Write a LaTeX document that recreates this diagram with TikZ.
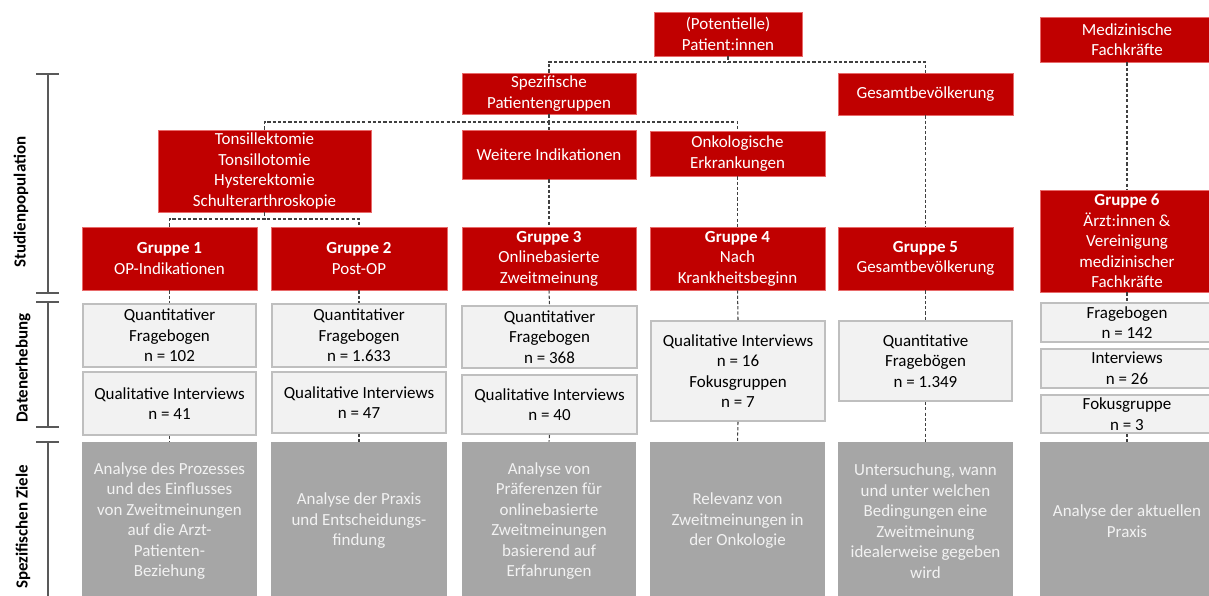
\documentclass[tikz,border=0pt]{standalone}
\usepackage{fontspec}
\setmainfont{Carlito}
\usepackage{tikz}
\usetikzlibrary{positioning}

\definecolor{myred}{HTML}{C00000}
\definecolor{myredline}{HTML}{E86A6A}
\definecolor{datafill}{HTML}{F2F2F2}
\definecolor{databorder}{HTML}{BFBFBF}
\definecolor{zielfill}{HTML}{A6A6A6}
\definecolor{zieltext}{HTML}{F2F2F2}
\definecolor{linegray}{HTML}{404040}
\definecolor{bracketgray}{HTML}{595959}

\newcommand{\boxfont}{\fontsize{9.65}{11.7}\selectfont}

\begin{document}
\begin{tikzpicture}[x=0.02cm, y=-0.02cm,
    redbox/.style={fill=myred, draw=myredline, line width=0.4pt, text=white,
      align=center, inner sep=0pt, font=\boxfont},
    databox/.style={fill=datafill, draw=databorder, line width=1.1pt,
      align=center, inner sep=0pt, font=\boxfont},
    zielbox/.style={fill=zielfill, text=zieltext, align=center, inner sep=0pt,
      minimum width=3.5cm, minimum height=3.16cm, font=\boxfont},
    conn/.style={draw=linegray, line width=0.6pt, dash pattern=on 1.8pt off 1.2pt},
    bracket/.style={draw=bracketgray, line width=1.1pt},
    sidelabel/.style={rotate=90, font=\boxfont\bfseries}]
  \clip (0,0) rectangle (1209,595);
  \fill[white] (0,0) rectangle (1209,595);

  % Connectors (drawn first, boxes go on top)
  \coordinate (potbus) at (728,62);
  \coordinate (spezbus) at (549,122);
  \coordinate (tonsbus) at (264.5,219);

  % Top level
  \node[redbox, minimum width=2.96cm, minimum height=0.88cm] (pot) at (728,34) {(Potentielle)\\Patient:innen};
  \node[redbox, minimum width=3.48cm, minimum height=0.9cm] (med) at (1127,39.5) {Medizinische\\Fachkräfte};

  % Second level
  \node[redbox, minimum width=3.48cm, minimum height=0.82cm] (spez) at (549,93.5) {Spezifische\\Patientengruppen};
  \node[redbox, minimum width=3.5cm, minimum height=0.84cm] (gesamt) at (925.5,94) {Gesamtbevölkerung};

  % Third level
  \node[redbox, minimum width=4.26cm, minimum height=1.64cm] (tons) at (264.5,171) {Tonsillektomie\\Tonsillotomie\\Hysterektomie\\Schulterarthroskopie};
  \node[redbox, minimum width=3.48cm, minimum height=0.98cm] (weitere) at (549,154.5) {Weitere Indikationen};
  \node[redbox, minimum width=3.5cm, minimum height=0.9cm] (onko) at (737.5,153.5) {Onkologische\\Erkrankungen};

  % Groups
  \node[redbox, minimum width=3.5cm, minimum height=1.26cm] (g1) at (169.5,258.5) {\textbf{Gruppe 1}\\OP-Indikationen};
  \node[redbox, minimum width=3.52cm, minimum height=1.26cm] (g2) at (359,258.5) {\textbf{Gruppe 2}\\Post-OP};
  \node[redbox, minimum width=3.48cm, minimum height=1.26cm] (g3) at (549,258.5) {\textbf{Gruppe 3}\\Onlinebasierte\\Zweitmeinung};
  \node[redbox, minimum width=3.5cm, minimum height=1.26cm] (g4) at (737.5,258.5) {\textbf{Gruppe 4}\\Nach\\Krankheitsbeginn};
  \node[redbox, minimum width=3.5cm, minimum height=1.26cm] (g5) at (925.5,258.5) {\textbf{Gruppe 5}\\Gesamtbevölkerung};
  \node[redbox, minimum width=3.48cm, minimum height=2.04cm] (g6) at (1127,241) {\textbf{Gruppe 6}\\Ärzt:innen \&\\Vereinigung\\medizinischer\\Fachkräfte};

  % Data collection
  \node[databox, minimum width=3.46cm, minimum height=1.26cm] (q1a) at (169.5,335.5) {Quantitativer\\Fragebogen\\n = 102};
  \node[databox, minimum width=3.46cm, minimum height=1.26cm] (q1b) at (169.5,403.5) {Qualitative Interviews\\n = 41};
  \node[databox, minimum width=3.48cm, minimum height=1.26cm] (q2a) at (359,335.5) {Quantitativer\\Fragebogen\\n = 1.633};
  \node[databox, minimum width=3.48cm, minimum height=1.22cm] (q2b) at (359,402.5) {Qualitative Interviews\\n = 47};
  \node[databox, minimum width=3.5cm, minimum height=1.24cm] (q3a) at (549.5,337) {Quantitativer\\Fragebogen\\n = 368};
  \node[databox, minimum width=3.5cm, minimum height=1.18cm] (q3b) at (549.5,404.5) {Qualitative Interviews\\n = 40};
  \node[databox, minimum width=3.48cm, minimum height=2.0cm] (q4) at (738,371) {Qualitative Interviews\\n = 16\\Fokusgruppen\\n = 7};
  \node[databox, minimum width=3.46cm, minimum height=1.6cm] (q5) at (925.5,361) {Quantitative\\Fragebögen\\n = 1.349};
  \node[databox, minimum width=3.44cm, minimum height=0.78cm] (q6a) at (1127,322.5) {Fragebogen\\n = 142};
  \node[databox, minimum width=3.44cm, minimum height=0.78cm] (q6b) at (1127,368.5) {Interviews\\n = 26};
  \node[databox, minimum width=3.44cm, minimum height=0.76cm] (q6c) at (1127,414) {Fokusgruppe\\n = 3};

  % Specific aims
  \node[zielbox] (z1) at (169.5,521) {Analyse des Prozesses\\und des Einflusses\\von Zweitmeinungen\\auf die Arzt-\\Patienten-\\Beziehung};
  \node[zielbox, minimum width=3.52cm] (z2) at (359,521) {Analyse der Praxis\\und Entscheidungs-\\findung};
  \node[zielbox, minimum width=3.48cm] (z3) at (549,521) {Analyse von\\Präferenzen für\\onlinebasierte\\Zweitmeinungen\\basierend auf\\Erfahrungen};
  \node[zielbox] (z4) at (737.5,521) {Relevanz von\\Zweitmeinungen in\\der Onkologie};
  \node[zielbox] (z5) at (925.5,521) {Untersuchung, wann\\und unter welchen\\Bedingungen eine\\Zweitmeinung\\idealerweise gegeben\\wird};
  \node[zielbox, minimum width=3.48cm] (z6) at (1127,521) {Analyse der aktuellen\\Praxis};

  % Dashed tree lines
  \draw[conn] (pot.south) -- (potbus);
  \draw[conn] (spez.north) |- (potbus) -| (gesamt.north);
  \draw[conn] (spez.south) -- (spezbus);
  \draw[conn] (tons.north) |- (spezbus) -| (onko.north);
  \draw[conn] (spezbus) -- (weitere.north);
  \draw[conn] (tons.south) -- (tonsbus);
  \draw[conn] (g1.north) |- (tonsbus) -| (g2.north);
  \draw[conn] (weitere.south) -- (g3.north);
  \draw[conn] (onko.south) -- (g4.north);
  \draw[conn] (gesamt.south) -- (g5.north);
  \draw[conn] (med.south) -- (g6.north);

  % Group to data to aims
  \draw[conn] (g1.south) -- (q1a.north);
  \draw[conn] (q1b.south) -- (z1.north);
  \draw[conn] (g2.south) -- (q2a.north);
  \draw[conn] (q2b.south) -- (z2.north);
  \draw[conn] (g3.south) -- (q3a.north);
  \draw[conn] (q3b.south) -- (z3.north);
  \draw[conn] (g4.south) -- (q4.north);
  \draw[conn] (q4.south) -- (z4.north);
  \draw[conn] (g5.south) -- (q5.north);
  \draw[conn] (q5.south) -- (z5.north);
  \draw[conn] (g6.south) -- (q6a.north);
  \draw[conn] (q6c.south) -- (z6.north);

  % Brackets
  \draw[bracket] (36,74) -- (59,74) (48,74) -- (48,293) (36,293) -- (59,293);
  \draw[bracket] (36,302) -- (59,302) (48,302) -- (48,427) (36,427) -- (59,427);
  \draw[bracket] (36,442) -- (59,442) (48,442) -- (48,600);

  % Side labels
  \node[sidelabel] (lstudie) at (21,202) {Studienpopulation};
  \node[sidelabel] (ldaten) at (23,368) {Datenerhebung};
  \node[sidelabel] (lziele) at (23,527) {Spezifischen Ziele};
\end{tikzpicture}
\end{document}
